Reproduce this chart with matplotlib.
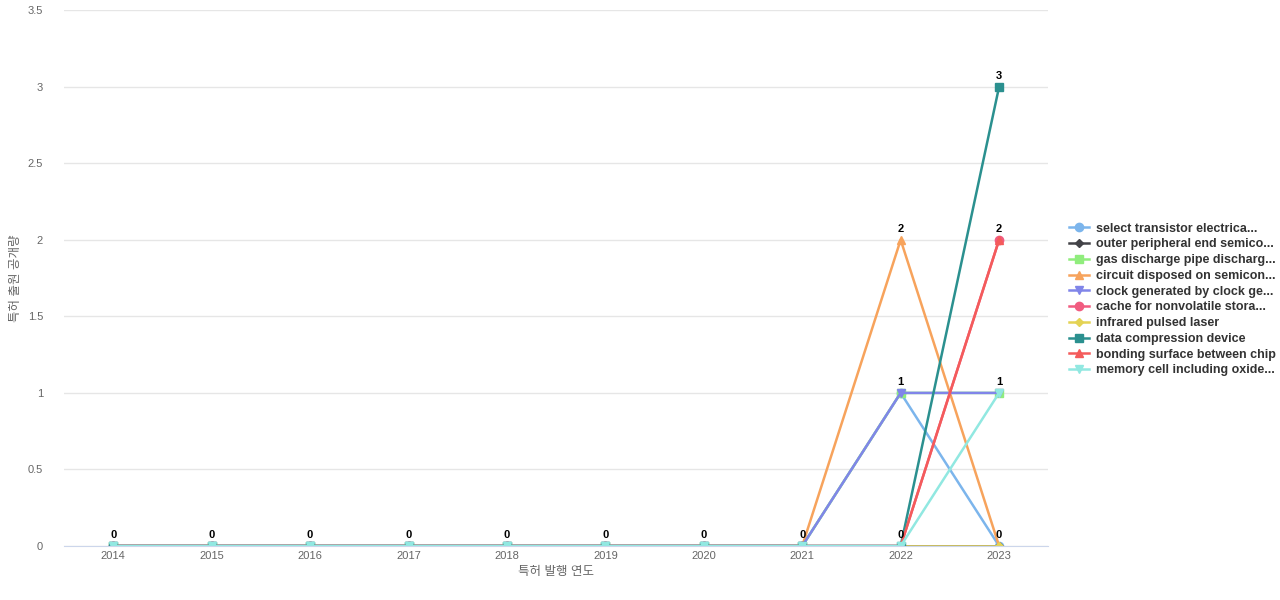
import numpy as np
import matplotlib.pyplot as plt

plt.rcParams['font.family'] = ['Liberation Sans', 'Noto Sans CJK KR', 'DejaVu Sans']

years = [2014, 2015, 2016, 2017, 2018, 2019, 2020, 2021, 2022, 2023]
names = ["select transistor electrica...", "outer peripheral end semico...",
         "gas discharge pipe discharg...", "circuit disposed on semicon...",
         "clock generated by clock ge...", "cache for nonvolatile stora...",
         "infrared pulsed laser", "data compression device",
         "bonding surface between chip", "memory cell including oxide..."]
z = [0] * 8
values = [
    z + [1, 0],
    z + [0, 0],
    z + [1, 1],
    z + [2, 0],
    z + [1, 1],
    z + [0, 2],
    z + [0, 0],
    z + [0, 3],
    z + [0, 2],
    z + [0, 1],
]
colors = ['#7cb5ec', '#434348', '#90ed7d', '#f7a35c', '#8085e9',
          '#f15c80', '#e4d354', '#2b908f', '#f45b5b', '#91e8e1']
markers = ['o', 'D', 's', '^', 'v', 'o', 'D', 's', '^', 'v']

fig = plt.figure(figsize=(12.8, 6), dpi=100)
ax = fig.add_axes([0.05, 0.09, 0.769, 0.893])
x = np.arange(len(years))
for v, n, c, m in zip(values, names, colors, markers):
    ax.plot(x, v, color=c, marker=m, markersize=6 if m != 'D' else 4.5,
            linewidth=1.8, label=n)

# value labels: one per distinct value per year
for i in range(len(years)):
    for val in sorted(set(v[i] for v in values)):
        ax.text(x[i], val + 0.04, str(val), ha='center', va='bottom',
                fontsize=8, fontweight='bold', color='black')

ax.set_ylim(0, 3.5)
ax.set_xlim(-0.5, len(years) - 0.5)
ax.set_xticks(x)
ax.set_xticklabels(years)
ax.set_yticks([0, 0.5, 1, 1.5, 2, 2.5, 3, 3.5])
ax.set_yticklabels(['0', '0.5', '1', '1.5', '2', '2.5', '3', '3.5'])
ax.tick_params(colors='#666666', labelsize=8, length=0)
ax.tick_params(axis='y', pad=15)
ax.grid(axis='y', color='#e6e6e6', linewidth=1)
ax.set_axisbelow(True)
for s in ['top', 'right', 'left']:
    ax.spines[s].set_visible(False)
ax.spines['bottom'].set_color('#ccd6eb')
ax.set_xlabel('특허 발행 연도', color='#666666', fontsize=9, labelpad=4)
ax.set_ylabel('특허 출원 공개량', color='#666666', fontsize=9)

leg = ax.legend(loc='center left', bbox_to_anchor=(1.01, 0.46), frameon=False,
                fontsize=9, handlelength=1.6, labelspacing=0.3,
                handletextpad=0.5)
for t in leg.get_texts():
    t.set_fontweight('bold')
    t.set_color('#333333')

fig.savefig('out.png')
